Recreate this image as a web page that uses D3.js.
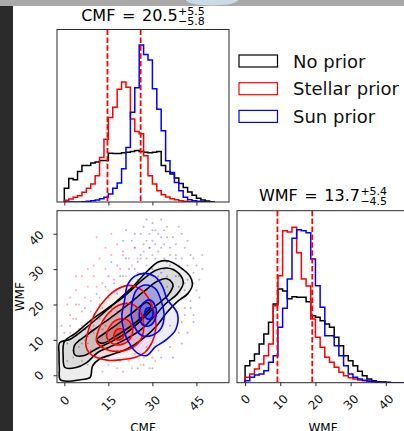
<!DOCTYPE html>
<html>
<head>
<meta charset="utf-8">
<script src="https://cdn.jsdelivr.net/npm/d3@7"></script>
<style>
  body { margin: 0; background: #fff; overflow: hidden; }
  svg { display: block; font-family: "DejaVu Sans", sans-serif; }
</style>
</head>
<body>
<div id="chart"></div>
<script>
// ---- data ----
var series = ["No prior", "Stellar prior", "Sun prior"];
var seriesColors = ["black", "red", "blue"];

var cmfTicks = [0, 15, 30, 45];
var wmfTicks = [0, 10, 20, 30, 40];

// CMF marginal histograms (bin start 0, width 1.5)
var cmfBinStart = 0, cmfBinWidth = 1.5;
var cmfNoPrior = [41,71,67,92,110,110,117,120,125,125,147,146,146,148,150,152,155,152,150,148,150,152,110,92,84,72,56,44,30,20,11,6,3,1];
var cmfStellar = [5,9,14,19,29,41,54,79,134,189,254,285,339,361,345,250,212,205,139,79,54,34,22,15,10,7,4,2,1,0,0,0,0,0];
var cmfSun     = [0,0,0,0,1,2,4,6,10,14,24,41,57,100,164,270,344,472,444,427,341,279,214,124,89,59,34,14,7,4,2,1,0,0];

// WMF marginal histograms (bin start 0, width 4/3)
var wmfBinStart = 0, wmfBinWidth = 1.3333;
var wmfNoPrior = [51,66,86,116,146,181,236,281,275,252,258,256,256,243,201,196,186,176,166,136,111,81,66,51,34,21,11,6,3,2,1,0,0,0,0];
var wmfStellar = [16,26,41,56,81,116,231,321,456,452,466,390,311,290,191,136,106,76,61,46,31,21,15,11,8,6,4,2,1,0,0,0,0,0,0];
var wmfSun     = [6,16,23,26,36,61,81,166,223,311,433,459,456,450,371,291,226,141,141,111,81,51,26,16,11,7,5,3,2,1,0,0,0,0,0];

// quantiles (dashed lines) and titles
var cmfQuant = [14.7, 26.0];
var wmfQuant = [9.2, 19.1];
var cmfTitle = ["CMF", "20.5", "5.5", "5.8"];
var wmfTitle = ["WMF", "13.7", "5.4", "4.5"];

// 2D contours [CMF, WMF], outer level first
var blackLevels = [
  [[-1.6,9.2],[2,10.2],[7,13.2],[12.5,17],[18,21],[23.5,25.2],[28.5,29.6],[32,32],[35.5,32.3],[39.5,30.5],[42.8,28],[43.6,25.5],[42,23],[38.5,20.8],[35,17.8],[31.5,14],[27,10.5],[21.5,7.5],[16,5.8],[12,4.6],[9.6,2.6],[8.8,-0.6],[6,-1.2],[-1.3,-1.3],[-1.7,2],[-1.8,6]],
  [[0,9.5],[4,12],[9,15.5],[14,18.5],[20,22],[26,26.5],[31,29.6],[35,30.3],[39,28.8],[40.5,26],[38.5,23],[34.5,20.2],[30.5,16.5],[26,12.8],[20.5,10],[15.5,8],[11.5,6.5],[7.5,3.5],[4,2.2],[0.2,2.2],[-0.4,5.5]],
  [[3.5,8.5],[7,11],[12,14],[17,17],[22,20.2],[27,23.6],[31.5,26.5],[35,27.3],[37,25.6],[35.5,22.8],[31,19.5],[26.5,15.8],[21.5,12.2],[16,9.5],[11,7.5],[6.5,5.5],[3.5,5.8]],
  [[11,10],[14.5,12.3],[19,15],[24,18.2],[28,20.6],[29.5,19.6],[26.5,16.5],[22,13.5],[17,10.8],[13,9]]
];
var redLevels = [
  [[7.3,8.5],[8.3,13],[10.5,17.5],[14,21.5],[18,24.3],[22,25.4],[25.5,24.6],[28.5,22],[30.5,18],[31.2,13.5],[30,9.5],[27.5,6.5],[24,5],[19.5,4.4],[15,4.2],[11,5],[8.5,6.3]],
  [[11,9.5],[12,13.5],[14.5,17],[18.5,19.8],[22.5,20.2],[25.5,18.5],[27,14.5],[26.3,10.5],[23.5,8],[19,6.8],[14.5,7.2]],
  [[14.5,10.5],[15.5,13.8],[18.5,15.8],[22,15.4],[23.3,12.5],[21.5,9.5],[17.5,8.6]],
  [[16.8,11],[18,13],[20.2,12.8],[20,10.6],[18,10]]
];
var blueLevels = [
  [[20.5,21],[21.5,25.5],[24,28],[27.5,28.8],[31,27.8],[33.5,25],[35,21.5],[38.5,17.5],[38,13],[35,10.2],[31,8],[28,5.6],[25,6.2],[22.5,8.5],[20.3,12.5],[19.6,17]],
  [[23,20],[24.5,24],[27.5,25.5],[31,24.5],[33,21],[34,17],[33,13.3],[30,11.3],[26.5,11.2],[24,13.5],[22.8,16.8]],
  [[25.5,16.5],[26.5,20],[29,21.3],[31,19.5],[31,16],[29,14],[26.8,14.2]],
  [[27.3,17],[28.2,19],[30,18.6],[30,16.6],[28.5,15.8]]
];

// scattered samples [CMF, WMF]
var blackDots = [[28,38],[31,41],[33,36],[35,39],[30,34],[36,34],[38,37],[40,33],[42,31],[44,29],[41,36],[37,30],[34,33],[39,28],[45,24],[43,21],[41,19],[38,18],[46,27],[32,40],[29,36],[26,33],[24,30],[27,37],[35,42],[33,44],[36,27],[44,33],[47,30],[40,40],
  [0,12],[2,14],[4,16],[6,18],[3,11],[5,13],[8,15],[1,9],[7,19],[10,17],[-1,14],[4,20],[12,20],[9,13],[15,22],[2,17],[6,9],[11,23],[14,25],[20,28],
  [30,30],[32,28],[34,30],[36,31],[38,34],[40,30],[42,27],[39,25],[37,22],[35,25],[33,26],[31,37],[28,33],[27,29],[25,27],[43,34],[45,31],[44,26],[41,24],[42,38],
  [37,39],[34,41],[30,43],[29,40],[46,22],[44,17],[40,15],[36,14],[47,34],[39,42],[3,7],[5,10],[8,11],[10,14],[12,16],[13,13],[16,19],[18,18],[7,13],[1,4]];
var redDots = [[5,20],[8,25],[10,28],[12,22],[14,30],[6,14],[9,18],[11,16],[13,19],[15,24],[17,27],[19,30],[3,16],[7,10],[4,24],[16,34],[20,34],[12,5],[15,3],[18,2],[22,4],[26,3],[24,6],[30,5],[29,2],[13,1],[9,7],[16,18],[18,21],[21,28],[23,31],[2,22],[10,31],[6,28],[25,33],[33,9],[31,4],[20,1],[8,3],[14,36],
  [7,22],[9,21],[11,25],[13,26],[14,14],[10,12],[8,9],[5,8],[4,12],[3,5],[6,4],[10,3],[17,6],[19,4],[23,2],[27,5],[28,8],[32,7],[25,29],[22,33],[18,37],[12,33],[8,30],[4,28],[1,20],[2,12],[16,40],[24,36],[27,35],[11,39]];
var blueDots = [[20,35],[23,38],[26,40],[29,36],[31,33],[25,32],[22,30],[35,32],[38,28],[40,22],[41,17],[39,12],[36,8],[33,5],[27,3],[24,36],[18,31],[28,31],[33,29],[37,25],[42,12],[17,26],[16,32],[30,38],[34,37],[21,41],[38,33],[43,19],[26,34],[32,35],
  [19,28],[21,33],[24,40],[27,42],[30,41],[33,39],[36,36],[39,31],[41,26],[42,23],[44,15],[40,9],[37,5],[30,2],[25,2],[35,28],[18,23],[15,28],[20,38],[28,44]];

// ---- layout ----
var W = 404, H = 431;
var p1 = {x: 57, y: 29.5, w: 172, h: 172.5};
var p2 = {x: 57, y: 210.7, w: 172, h: 172};
var p3 = {x: 237, y: 210.7, w: 172, h: 172};

var svg = d3.select("#chart").append("svg")
    .attr("width", W)
    .attr("height", H);

// bits of the screenshot around the figure
svg.append("rect").attr("x", 0).attr("y", 0).attr("width", W).attr("height", 6).attr("fill", "#a9a9a9");
svg.append("ellipse").attr("cx", 212).attr("cy", 0).attr("rx", 26).attr("ry", 5.5).attr("fill", "#c9dbe7");
svg.append("rect").attr("x", 0).attr("y", 6).attr("width", 13).attr("height", H).attr("fill", "#2b2b2b");

// scales
var xC = d3.scaleLinear().domain([-2.5, 56.1]).range([p1.x, p1.x + p1.w]);
var yW = d3.scaleLinear().domain([-2.1, 46.5]).range([p2.y + p2.h, p2.y]);
var xW = d3.scaleLinear().domain([-2.3, 46.6]).range([p3.x, p3.x + p3.w]);
var yH1 = d3.scaleLinear().domain([0, 519]).range([p1.y + p1.h, p1.y]);
var yH3 = d3.scaleLinear().domain([0, 516]).range([p3.y + p3.h, p3.y]);

var defs = svg.append("defs");
[["c1", p1], ["c2", p2], ["c3", p3]].forEach(function(c) {
  defs.append("clipPath").attr("id", c[0]).append("rect")
    .attr("x", c[1].x).attr("y", c[1].y).attr("width", c[1].w).attr("height", c[1].h);
});

function stepPoints(start, width, vals) {
  var pts = [[start, 0]];
  vals.forEach(function(v, i) { pts.push([start + i * width, v]); });
  pts.push([start + vals.length * width, 0]);
  return pts;
}

// ---- top histogram (CMF) ----
var g1 = svg.append("g").attr("clip-path", "url(#c1)");
var histLine1 = d3.line().x(function(d) { return xC(d[0]); }).y(function(d) { return yH1(d[1]); }).curve(d3.curveStepAfter);
[cmfNoPrior, cmfStellar, cmfSun].forEach(function(vals, i) {
  g1.append("path")
    .attr("d", histLine1(stepPoints(cmfBinStart, cmfBinWidth, vals)))
    .attr("fill", "none")
    .attr("stroke", seriesColors[i])
    .attr("stroke-width", 1.5);
});
cmfQuant.forEach(function(q) {
  g1.append("line")
    .attr("x1", xC(q)).attr("x2", xC(q))
    .attr("y1", p1.y).attr("y2", p1.y + p1.h)
    .attr("stroke", "red").attr("stroke-width", 1.8)
    .attr("stroke-dasharray", "5.5,2.4");
});

// ---- right histogram (WMF) ----
var g3 = svg.append("g").attr("clip-path", "url(#c3)");
var histLine3 = d3.line().x(function(d) { return xW(d[0]); }).y(function(d) { return yH3(d[1]); }).curve(d3.curveStepAfter);
[wmfNoPrior, wmfStellar, wmfSun].forEach(function(vals, i) {
  g3.append("path")
    .attr("d", histLine3(stepPoints(wmfBinStart, wmfBinWidth, vals)))
    .attr("fill", "none")
    .attr("stroke", seriesColors[i])
    .attr("stroke-width", 1.5);
});
wmfQuant.forEach(function(q) {
  g3.append("line")
    .attr("x1", xW(q)).attr("x2", xW(q))
    .attr("y1", p3.y).attr("y2", p3.y + p3.h)
    .attr("stroke", "red").attr("stroke-width", 1.8)
    .attr("stroke-dasharray", "5.5,2.4");
});

// ---- 2D panel ----
var g2 = svg.append("g").attr("clip-path", "url(#c2)");
[[blackDots, "#555"], [redDots, "#f33"], [blueDots, "#33f"]].forEach(function(s) {
  g2.selectAll(null).data(s[0]).enter().append("circle")
    .attr("cx", function(d) { return xC(d[0]); })
    .attr("cy", function(d) { return yW(d[1]); })
    .attr("r", 1)
    .attr("fill", s[1])
    .attr("opacity", 0.4);
});

var contour = d3.line()
  .x(function(d) { return xC(d[0]); })
  .y(function(d) { return yW(d[1]); })
  .curve(d3.curveCatmullRomClosed.alpha(0.5));

var fillOpacity = {black: [0.07, 0.07, 0.08, 0.1], red: [0.06, 0.1, 0.16, 0.3], blue: [0.07, 0.12, 0.2, 0.35]};
[[blackLevels, "black"], [redLevels, "red"], [blueLevels, "blue"]].forEach(function(s) {
  s[0].forEach(function(poly, i) {
    g2.append("path").attr("d", contour(poly))
      .attr("fill", s[1]).attr("fill-opacity", fillOpacity[s[1]][i])
      .attr("stroke", "none");
  });
});
[[blackLevels, "black"], [redLevels, "red"], [blueLevels, "blue"]].forEach(function(s) {
  s[0].forEach(function(poly) {
    g2.append("path").attr("d", contour(poly))
      .attr("fill", "none")
      .attr("stroke", s[1])
      .attr("stroke-width", 1.6);
  });
});

// ---- frames ----
[p1, p2, p3].forEach(function(p) {
  svg.append("rect")
    .attr("x", p.x).attr("y", p.y).attr("width", p.w).attr("height", p.h)
    .attr("fill", "none").attr("stroke", "#2a2a2a").attr("stroke-width", 1);
});

// ---- axes ----
function styleAxis(g) {
  g.select(".domain").remove();
  g.selectAll(".tick line").attr("stroke", "#2a2a2a").attr("stroke-width", 1);
  g.selectAll(".tick text").attr("fill", "#111").style("font-size", "12px")
    .style("font-family", "DejaVu Sans");
}

// top histogram: ticks only
svg.append("g")
  .attr("transform", "translate(0," + (p1.y + p1.h) + ")")
  .call(d3.axisBottom(xC).tickValues(cmfTicks).tickSize(3.5).tickFormat(""))
  .call(styleAxis);

function rotateBottomLabels(g, top) {
  g.selectAll(".tick text").each(function() {
    var t = d3.select(this);
    var w = this.getComputedTextLength();
    var cy = top + (w + 8.8) * 0.3536;
    t.attr("x", 0).attr("y", 0).attr("dy", null)
      .attr("text-anchor", "middle")
      .attr("dominant-baseline", "central")
      .attr("transform", "translate(0," + cy + ") rotate(-45)");
  });
}

var ax2b = svg.append("g")
  .attr("transform", "translate(0," + (p2.y + p2.h) + ")")
  .call(d3.axisBottom(xC).tickValues(cmfTicks).tickSize(3.5))
  .call(styleAxis);
rotateBottomLabels(ax2b, 12.3);

var ax3b = svg.append("g")
  .attr("transform", "translate(0," + (p3.y + p3.h) + ")")
  .call(d3.axisBottom(xW).tickValues(wmfTicks).tickSize(3.5))
  .call(styleAxis);
rotateBottomLabels(ax3b, 11);

var ax2l = svg.append("g")
  .attr("transform", "translate(" + p2.x + ",0)")
  .call(d3.axisLeft(yW).tickValues(wmfTicks).tickSize(3.5))
  .call(styleAxis);
ax2l.selectAll(".tick text").each(function() {
  var t = d3.select(this);
  var w = this.getComputedTextLength();
  var cx = -12 - (w + 8.8) * 0.3536;
  var cy = (w - 7.6) * 0.5;
  t.attr("x", 0).attr("y", 0).attr("dy", null)
    .attr("text-anchor", "middle")
    .attr("dominant-baseline", "central")
    .attr("transform", "translate(" + cx + "," + cy + ") rotate(-45)");
});

// axis labels
svg.append("text").attr("x", p2.x + p2.w / 2).attr("y", 431.5)
  .attr("text-anchor", "middle").style("font-size", "12px").text("CMF");
svg.append("text").attr("x", p3.x + p3.w / 2).attr("y", 431.5)
  .attr("text-anchor", "middle").style("font-size", "12px").text("WMF");
svg.append("text")
  .attr("transform", "translate(23.5," + (p2.y + p2.h / 2) + ") rotate(-90)")
  .attr("text-anchor", "middle").style("font-size", "12px").text("WMF");

// titles with super/subscripts
function mathTitle(cx, y, parts) {
  var g = svg.append("g");
  var main = g.append("text").attr("x", 0).attr("y", y)
    .style("font-size", "16px").style("word-spacing", "1.5px")
    .text(parts[0] + " = " + parts[1]);
  var w = main.node().getComputedTextLength() + 0.5;
  var sup = g.append("text").attr("x", w).attr("y", y - 5.8)
    .style("font-size", "11px").text("+" + parts[2]);
  var sub = g.append("text").attr("x", w).attr("y", y + 4.3)
    .style("font-size", "11px").text("\u2212" + parts[3]);
  var tw = w + Math.max(sup.node().getComputedTextLength(), sub.node().getComputedTextLength());
  g.attr("transform", "translate(" + (cx - tw / 2) + ",0)");
}
mathTitle(p1.x + p1.w / 2, 20.7, cmfTitle);
mathTitle(p3.x + p3.w / 2, 200.7, wmfTitle);

// legend
var leg = svg.append("g");
series.forEach(function(name, i) {
  var cy = 61 + i * 27.7;
  leg.append("rect")
    .attr("x", 239).attr("y", cy - 6).attr("width", 38.5).attr("height", 12)
    .attr("fill", "#fff").attr("stroke", seriesColors[i]).attr("stroke-width", 1.2);
  leg.append("text")
    .attr("x", 293).attr("y", cy + 6.5)
    .style("font-size", "18px").attr("fill", "#111")
    .text(name);
});
</script>
</body>
</html>
